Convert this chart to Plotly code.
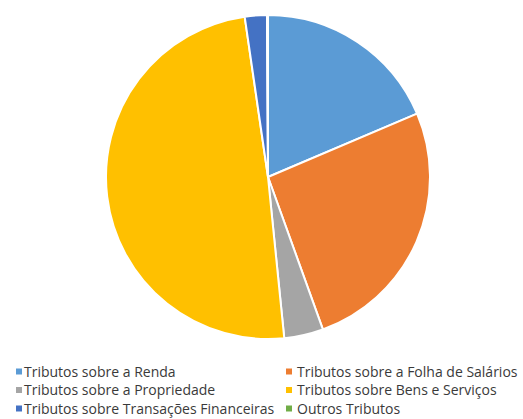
import plotly.graph_objects as go

categories = [
    "Tributos sobre a Renda",
    "Tributos sobre a Folha de Salários",
    "Tributos sobre a Propriedade",
    "Tributos sobre Bens e Serviços",
    "Tributos sobre Transações Financeiras",
    "Outros Tributos",
]
values = [18.6, 25.9, 3.9, 49.3, 2.2, 0.1]
colors = ["#5B9BD5", "#ED7D31", "#A5A5A5", "#FFC000", "#4472C4", "#70AD47"]

W, H = 523, 419

fig = go.Figure(
    go.Pie(
        labels=categories,
        values=values,
        sort=False,
        direction="clockwise",
        rotation=0,
        marker=dict(colors=colors, line=dict(color="white", width=2)),
        textinfo="none",
        hoverinfo="label+percent",
        showlegend=False,
        domain=dict(x=[106 / W, 430 / W], y=[(H - 339) / H, (H - 15) / H]),
    )
)

# Legend drawn as two columns of swatches + labels
col_marker_x = [16, 286]
col_text_x = [22, 295]
row_y = [371, 389.5, 408]
sw = 6
shapes = []
annotations = []
for i, (lab, col) in enumerate(zip(categories, colors)):
    r, c = divmod(i, 2)
    mx, cy = col_marker_x[c], row_y[r]
    shapes.append(dict(
        type="rect", xref="paper", yref="paper",
        x0=mx / W, x1=(mx + sw) / W,
        y0=1 - (cy + sw / 2 + 0.5) / H, y1=1 - (cy - sw / 2 + 0.5) / H,
        fillcolor=col, line=dict(width=0),
    ))
    annotations.append(dict(
        text=lab, xref="paper", yref="paper",
        x=col_text_x[c] / W, y=1 - cy / H,
        xanchor="left", yanchor="middle", showarrow=False,
        font=dict(family="Open Sans", size=14, color="#3a3a3a"),
    ))

fig.update_layout(
    width=W,
    height=H,
    margin=dict(l=0, r=0, t=0, b=0),
    paper_bgcolor="white",
    plot_bgcolor="white",
    showlegend=False,
    shapes=shapes,
    annotations=annotations,
    font=dict(family="Open Sans"),
)

fig.write_html("out.html")
